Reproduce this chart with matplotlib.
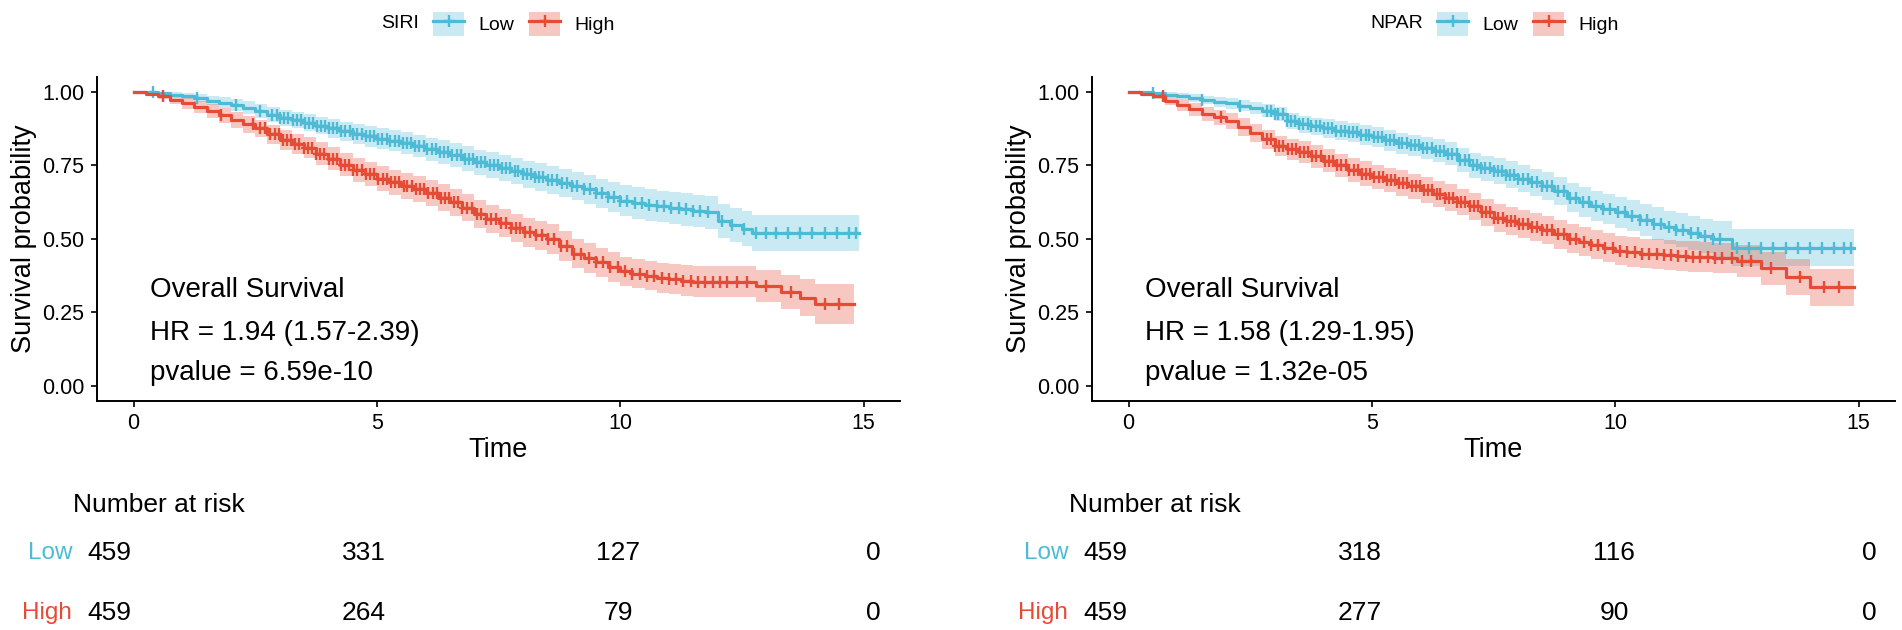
import numpy as np
import matplotlib
matplotlib.use('Agg')
import matplotlib.pyplot as plt
from matplotlib.patches import Patch
from matplotlib.lines import Line2D

plt.rcParams['font.family'] = ['Liberation Sans', 'DejaVu Sans']

col_low = '#4DBBD5'
col_high = '#E64B35'

# ---- SIRI panel ----
siri_low_t = [0, 0.25, 0.5, 0.75, 1.0, 1.25, 1.5, 1.75, 2.0, 2.25, 2.5, 2.75, 3.0, 3.25, 3.5, 3.75, 4.0, 4.25, 4.5, 4.75,
              5.0, 5.25, 5.5, 5.75, 6.0, 6.25, 6.5, 6.75, 7.0, 7.25, 7.5, 7.75, 8.0, 8.25, 8.5, 8.75, 9.0, 9.25, 9.5, 9.75,
              10.0, 10.25, 10.5, 10.75, 11.0, 11.25, 11.5, 11.75, 12.0, 12.25, 12.5, 12.7, 14.9]
siri_low_s = [1.0, .998, .995, .99, .985, .978, .97, .963, .955, .946, .935, .922, .91, .903, .895, .885, .875, .865, .855, .848,
              .84, .833, .825, .815, .805, .795, .785, .772, .76, .75, .74, .73, .72, .71, .70, .69, .68, .668, .655, .642,
              .63, .622, .615, .61, .605, .60, .595, .59, .56, .548, .535, .52, .52]
siri_low_ci = [0, .004, .006, .009, .011, .014, .016, .018, .019, .021, .023, .025, .027, .028, .029, .030, .031, .033, .034, .035,
               .035, .036, .037, .038, .039, .040, .041, .042, .043, .044, .044, .045, .046, .047, .047, .048, .048, .049, .050, .051,
               .052, .053, .053, .054, .054, .055, .055, .056, .057, .058, .060, .062, .062]

siri_high_t = [0, 0.25, 0.5, 0.75, 1.0, 1.25, 1.5, 1.75, 2.0, 2.25, 2.5, 2.75, 3.0, 3.25, 3.5, 3.75, 4.0, 4.25, 4.5, 4.75,
               5.0, 5.25, 5.5, 5.75, 6.0, 6.25, 6.5, 6.75, 7.0, 7.25, 7.5, 7.75, 8.0, 8.25, 8.5, 8.75, 9.0, 9.25, 9.5, 9.75,
               10.0, 10.25, 10.5, 10.75, 11.0, 11.25, 11.5, 12.0, 12.8, 13.3, 13.7, 14.0, 14.8]
siri_high_s = [1.0, .993, .985, .973, .96, .948, .935, .92, .905, .89, .875, .855, .835, .822, .81, .79, .772, .752, .735, .72,
               .705, .692, .68, .668, .655, .64, .625, .605, .585, .568, .553, .538, .522, .512, .50, .475, .45, .435, .42, .405,
               .39, .382, .375, .368, .362, .358, .355, .355, .34, .32, .30, .28, .28]
siri_high_ci = [0, .006, .011, .015, .018, .021, .023, .025, .027, .029, .030, .032, .034, .035, .036, .038, .039, .040, .041, .042,
                .043, .043, .044, .044, .045, .045, .046, .046, .047, .047, .048, .048, .049, .049, .050, .050, .050, .050, .050, .050,
                .050, .050, .050, .051, .051, .052, .052, .052, .054, .058, .062, .068, .068]

siri_low_cens = [0.4, 1.3, 2.1, 2.6, 2.85, 2.95, 3.02, 3.1, 3.18, 3.27, 3.35, 3.44, 3.52, 3.6, 3.68, 3.77, 3.85, 3.93, 4.02, 4.1,
                 4.19, 4.27, 4.35, 4.44, 4.52, 4.6, 4.69, 4.77, 4.86, 4.94, 5.03, 5.11, 5.2, 5.28, 5.37, 5.45, 5.54, 5.62, 5.7, 5.79,
                 5.87, 5.96, 6.04, 6.13, 6.21, 6.3, 6.38, 6.47, 6.55, 6.64, 6.72, 6.81, 6.89, 6.98, 7.06, 7.15, 7.23, 7.32, 7.4, 7.49,
                 7.57, 7.66, 7.74, 7.83, 7.91, 8.0, 8.08, 8.17, 8.25, 8.34, 8.42, 8.51, 8.6, 8.7, 8.8, 8.9, 9.0, 9.12, 9.25, 9.37,
                 9.5, 9.62, 9.75, 9.88, 10.0, 10.15, 10.3, 10.45, 10.6, 10.75, 10.9, 11.05, 11.2, 11.35, 11.5, 11.65, 11.8, 12.1, 12.3, 12.55,
                 12.8, 13.0, 13.2, 13.45, 13.7, 13.95, 14.2, 14.45, 14.7, 14.85]
siri_high_cens = [0.6, 1.8, 2.45, 2.6, 2.7, 2.8, 2.9, 2.98, 3.07, 3.15, 3.24, 3.32, 3.41, 3.5, 3.58, 3.67, 3.75, 3.84, 3.92, 4.01,
                  4.09, 4.18, 4.26, 4.35, 4.43, 4.52, 4.6, 4.69, 4.77, 4.86, 4.94, 5.03, 5.12, 5.2, 5.29, 5.37, 5.46, 5.55, 5.63, 5.72,
                  5.8, 5.89, 5.97, 6.06, 6.15, 6.23, 6.32, 6.4, 6.49, 6.58, 6.66, 6.75, 6.85, 6.95, 7.05, 7.15, 7.25, 7.35, 7.45, 7.55,
                  7.65, 7.75, 7.85, 7.95, 8.05, 8.15, 8.27, 8.4, 8.52, 8.65, 8.78, 8.9, 9.05, 9.2, 9.35, 9.5, 9.65, 9.8, 9.95, 10.1,
                  10.25, 10.4, 10.55, 10.7, 10.85, 11.0, 11.15, 11.3, 11.45, 11.6, 11.75, 11.9, 12.05, 12.2, 12.4, 12.6, 13.0, 13.5, 14.2, 14.5]

# ---- NPAR panel ----
npar_low_t = [0, 0.25, 0.5, 0.75, 1.0, 1.25, 1.5, 1.75, 2.0, 2.25, 2.5, 2.75, 3.0, 3.25, 3.5, 3.75, 4.0, 4.25, 4.5, 4.75,
              5.0, 5.25, 5.5, 5.75, 6.0, 6.25, 6.5, 6.75, 7.0, 7.25, 7.5, 7.75, 8.0, 8.25, 8.5, 8.75, 9.0, 9.25, 9.5, 9.75,
              10.0, 10.25, 10.5, 10.75, 11.0, 11.25, 11.5, 11.75, 12.0, 12.4, 14.9]
npar_low_s = [1.0, .998, .995, .99, .985, .978, .972, .966, .96, .953, .945, .936, .925, .90, .89, .882, .875, .868, .862, .853,
              .845, .835, .825, .818, .81, .80, .79, .768, .75, .74, .73, .718, .705, .692, .68, .662, .64, .625, .61, .60,
              .59, .578, .565, .552, .54, .53, .52, .51, .50, .47, .47]
npar_low_ci = [0, .004, .006, .009, .011, .013, .015, .017, .018, .020, .021, .023, .024, .027, .029, .030, .031, .031, .032, .033,
               .034, .035, .036, .036, .037, .038, .039, .040, .042, .043, .044, .045, .046, .046, .047, .048, .049, .050, .051, .051,
               .052, .053, .054, .055, .056, .057, .058, .059, .060, .062, .062]

npar_high_t = [0, 0.25, 0.5, 0.75, 1.0, 1.25, 1.5, 1.75, 2.0, 2.25, 2.5, 2.75, 3.0, 3.25, 3.5, 3.75, 4.0, 4.25, 4.5, 4.75,
               5.0, 5.25, 5.5, 5.75, 6.0, 6.25, 6.5, 6.75, 7.0, 7.25, 7.5, 7.75, 8.0, 8.25, 8.5, 8.75, 9.0, 9.25, 9.5, 9.75,
               10.0, 10.25, 10.5, 10.75, 11.0, 11.25, 11.5, 11.75, 12.0, 12.5, 13.0, 13.5, 14.0, 14.9]
npar_high_s = [1.0, .993, .985, .97, .955, .94, .925, .913, .90, .88, .86, .838, .815, .805, .795, .78, .765, .75, .735, .722,
               .71, .70, .69, .678, .665, .652, .64, .625, .61, .59, .57, .56, .55, .54, .53, .515, .50, .49, .48, .47,
               .46, .455, .45, .448, .445, .442, .44, .438, .435, .425, .40, .37, .335, .335]
npar_high_ci = [0, .006, .011, .015, .019, .022, .024, .026, .027, .029, .031, .033, .035, .036, .037, .038, .039, .040, .041, .041,
                .042, .042, .043, .043, .044, .044, .045, .045, .046, .046, .047, .047, .048, .048, .048, .048, .049, .049, .049, .049,
                .050, .050, .050, .050, .051, .051, .051, .051, .052, .053, .056, .060, .064, .064]

npar_low_cens = [0.5, 1.5, 2.3, 2.85, 2.92, 3.0, 3.08, 3.17, 3.25, 3.34, 3.42, 3.51, 3.59, 3.68, 3.76, 3.85, 3.93, 4.02, 4.1, 4.19,
                 4.27, 4.36, 4.44, 4.53, 4.61, 4.7, 4.78, 4.87, 4.95, 5.04, 5.12, 5.21, 5.29, 5.38, 5.46, 5.55, 5.63, 5.72, 5.8, 5.89,
                 5.97, 6.06, 6.14, 6.23, 6.31, 6.4, 6.48, 6.57, 6.65, 6.74, 6.82, 6.91, 6.99, 7.08, 7.16, 7.25, 7.33, 7.42, 7.5, 7.59,
                 7.67, 7.76, 7.84, 7.93, 8.01, 8.1, 8.2, 8.3, 8.4, 8.5, 8.6, 8.7, 8.82, 8.95, 9.08, 9.2, 9.33, 9.46, 9.6, 9.75,
                 9.9, 10.05, 10.2, 10.35, 10.5, 10.65, 10.8, 10.95, 11.1, 11.25, 11.4, 11.55, 11.7, 11.85, 12.0, 12.15, 12.5, 12.75, 13.0, 13.25,
                 13.5, 13.75, 14.0, 14.25, 14.5, 14.7, 14.85]
npar_high_cens = [0.7, 1.9, 2.85, 2.93, 3.01, 3.1, 3.18, 3.27, 3.35, 3.44, 3.52, 3.61, 3.69, 3.78, 3.86, 3.95, 4.03, 4.12, 4.2, 4.29,
                  4.37, 4.46, 4.54, 4.63, 4.71, 4.8, 4.88, 4.97, 5.05, 5.14, 5.22, 5.31, 5.39, 5.48, 5.56, 5.65, 5.73, 5.82, 5.9, 5.99,
                  6.07, 6.16, 6.24, 6.33, 6.41, 6.5, 6.58, 6.67, 6.75, 6.84, 6.92, 7.01, 7.09, 7.18, 7.26, 7.35, 7.43, 7.52, 7.6, 7.69,
                  7.77, 7.86, 7.94, 8.03, 8.11, 8.2, 8.3, 8.4, 8.5, 8.6, 8.7, 8.82, 8.95, 9.08, 9.2, 9.35, 9.5, 9.65, 9.8, 9.95,
                  10.1, 10.25, 10.4, 10.55, 10.7, 10.85, 11.0, 11.15, 11.3, 11.45, 11.6, 11.75, 11.9, 12.05, 12.2, 12.4, 12.6, 12.8, 13.2, 13.8,
                  14.3, 14.6]

# number at risk
risk_times = [0, 5, 10, 15]
siri_risk_low = [459, 331, 127, 0]
siri_risk_high = [459, 264, 79, 0]
npar_risk_low = [459, 318, 116, 0]
npar_risk_high = [459, 277, 90, 0]

panels = [
    dict(name='SIRI', hr='HR = 1.94 (1.57-2.39)', p='pvalue = 6.59e-10',
         low=(siri_low_t, siri_low_s, siri_low_ci, siri_low_cens),
         high=(siri_high_t, siri_high_s, siri_high_ci, siri_high_cens),
         risk=(siri_risk_low, siri_risk_high)),
    dict(name='NPAR', hr='HR = 1.58 (1.29-1.95)', p='pvalue = 1.32e-05',
         low=(npar_low_t, npar_low_s, npar_low_ci, npar_low_cens),
         high=(npar_high_t, npar_high_s, npar_high_ci, npar_high_cens),
         risk=(npar_risk_low, npar_risk_high)),
]

W, H = 1902, 630
fig = plt.figure(figsize=(W / 100, H / 100), dpi=100)

# pixel layout: (axes left, legend key start, risk table 0-position)
layout = [(97, 433, 109), (1092, 1437, 1105)]


def draw_curve(ax, data, color):
    t, s, ci, cens = data
    t = np.array(t)
    s = np.array(s)
    ci = np.array(ci)
    ax.fill_between(t, s - ci, np.minimum(s + ci, 1), step='post', color=color, alpha=0.3, lw=0)
    ax.step(t, s, where='post', color=color, lw=2.3)
    idx = np.searchsorted(t, cens, side='right') - 1
    ax.plot(cens, s[idx], ls='none', marker='|', ms=9, mew=1.7, color=color)
    ax.plot(cens, s[idx], ls='none', marker='_', ms=5, mew=1.7, color=color)


for pan, (ax_px, leg_px, tab_px) in zip(panels, layout):
    ax = fig.add_axes([ax_px / W, 1 - 400.7 / H, 803 / W, 323.7 / H])
    draw_curve(ax, pan['low'], col_low)
    draw_curve(ax, pan['high'], col_high)
    ax.set_xlim(-0.75, 15.75)
    ax.set_ylim(-0.05, 1.05)
    ax.set_xticks([0, 5, 10, 15])
    ax.set_yticks([0, 0.25, 0.5, 0.75, 1.0])
    ax.set_yticklabels(['0.00', '0.25', '0.50', '0.75', '1.00'])
    ax.tick_params(labelsize=15.5, length=4, width=1.2, pad=5, colors='black')
    for sp in ['top', 'right']:
        ax.spines[sp].set_visible(False)
    for sp in ['left', 'bottom']:
        ax.spines[sp].set_linewidth(1.4)
    ax.set_xlabel('Time', fontsize=19.5, labelpad=2)
    ax.set_ylabel('Survival probability', fontsize=19.5, labelpad=4)
    ax.text(0.33, 0.327, 'Overall Survival', fontsize=20, va='center')
    ax.text(0.33, 0.18, pan['hr'], fontsize=20, va='center')
    ax.text(0.33, 0.045, pan['p'], fontsize=20, va='center')

    # legend on top
    handles = [(Patch(facecolor=c, alpha=0.3, lw=0),
                Line2D([], [], color=c, lw=2.3, marker='+', ms=9, mew=1.7))
               for c in (col_low, col_high)]
    fig.legend(handles, ['Low', 'High'], ncol=2, frameon=False, fontsize=14,
               loc='center left', bbox_to_anchor=(leg_px / W, 1 - 24 / H),
               borderpad=0, borderaxespad=0, handlelength=1.6, handleheight=1.6,
               handletextpad=0.72, columnspacing=0.77, numpoints=1)
    fig.text((leg_px - 14) / W, 1 - 24 / H, pan['name'], fontsize=14,
             ha='right', va='center')

    # risk table
    tab = fig.add_axes([tab_px / W, 0, 764 / W, 1 - 470 / H])
    tab.set_xlim(0, 15)
    tab.set_ylim(630, 470)
    tab.axis('off')
    tab.text(-0.71, 505, 'Number at risk', fontsize=19, va='center', ha='left')
    for row_y, lab, col, vals in [(553, 'Low', col_low, pan['risk'][0]),
                                  (613, 'High', col_high, pan['risk'][1])]:
        tab.text(-0.72, row_y, lab, fontsize=17.5, color=col, ha='right', va='center')
        for tt, v in zip(risk_times, vals):
            tab.text(tt, row_y, str(v), fontsize=19, ha='center', va='center')

fig.savefig('out.png', dpi=100)
